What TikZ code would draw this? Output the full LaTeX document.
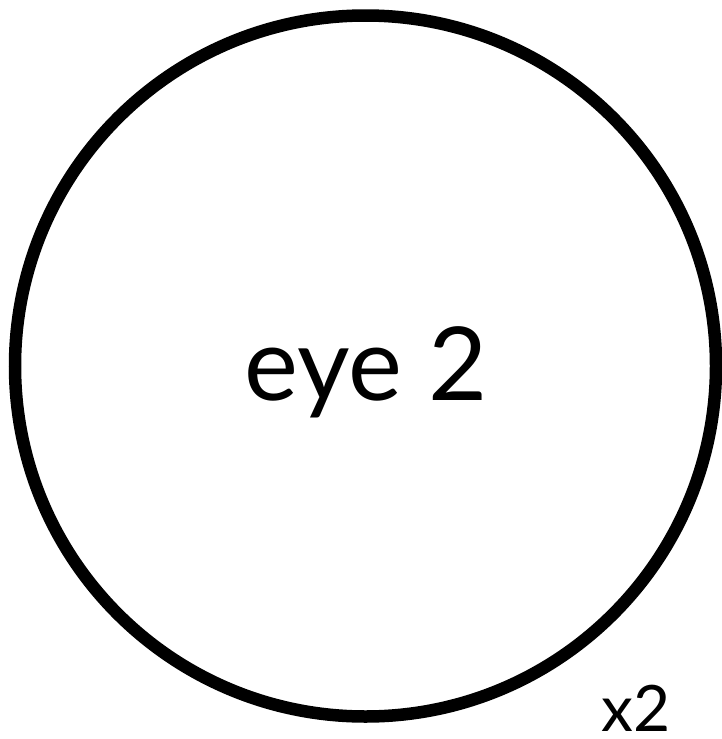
\documentclass[tikz,border=0pt]{standalone}
\usepackage{fontspec}
\setmainfont{Lato}
\begin{document}
\begin{tikzpicture}[x=1pt,y=1pt,
  ring/.style={draw=black,line width=12.5pt,circle,minimum size=701pt,inner sep=0pt},
  bigtext/.style={anchor=base,inner sep=0pt,font=\fontsize{102}{104}\selectfont},
  smalltext/.style={anchor=base,inner sep=0pt,font=\fontsize{64}{66}\selectfont}]
\useasboundingbox (0,0) rectangle (722,-739);
\node[ring] (eye) at (365.5,-366) {};
\node[bigtext] (label) at (366,-400) {eye 2};
\node[smalltext] (count) at (636,-731) {x2};
\end{tikzpicture}
\end{document}
